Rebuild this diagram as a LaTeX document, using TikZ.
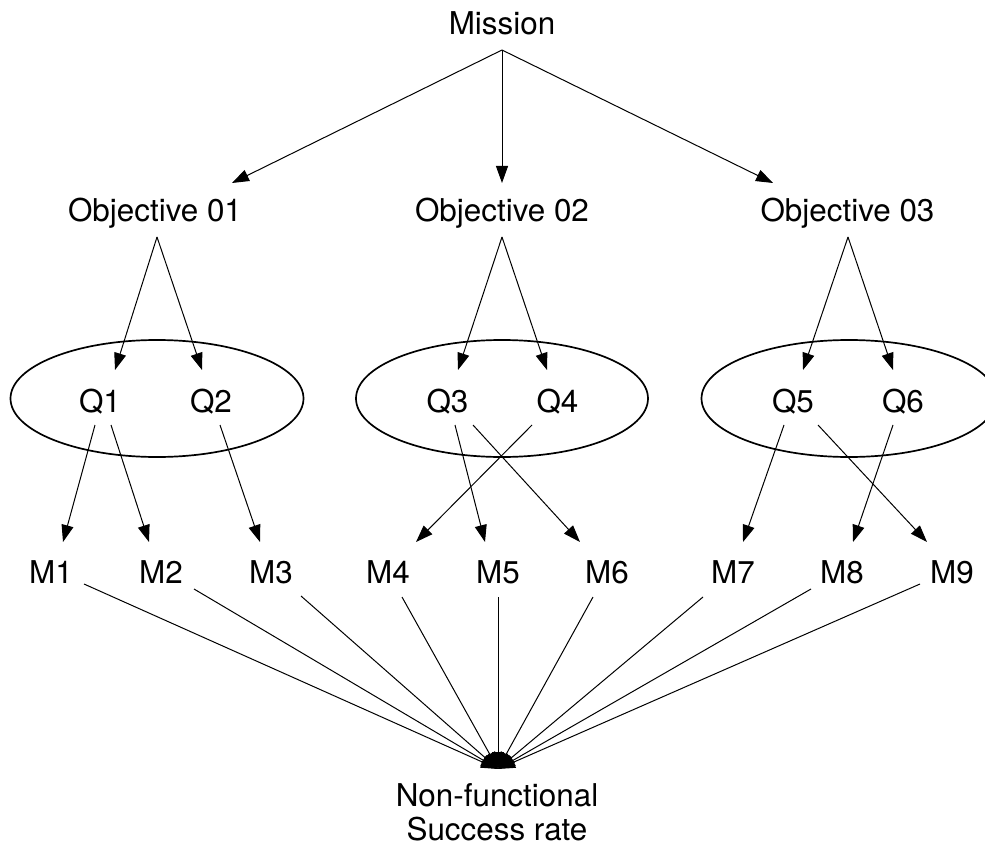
\documentclass[tikz,border=0pt]{standalone}
\usepackage{fontspec}
\setmainfont{TeX Gyre Heros}
\usetikzlibrary{arrows.meta}
\begin{document}
\begin{tikzpicture}[x=1pt,y=-1pt,
  lbl/.style={font=\fontsize{31.4}{34}\selectfont, inner sep=0pt, anchor=base},
  link/.style={line width=1pt, -{Triangle[length=17pt,width=12pt]}},
  group/.style={line width=1.7pt}]
\useasboundingbox (0,0) rectangle (985,845);

% text nodes
\node[lbl] (mission) at (502,35) {Mission};
\node[lbl] (o1) at (155,222) {Objective 01};
\node[lbl] (o2) at (502,222) {Objective 02};
\node[lbl] (o3) at (847.5,222) {Objective 03};

\node[lbl] (q1) at (100,412) {Q1};
\node[lbl] (q2) at (211,412) {Q2};
\node[lbl] (q3) at (447.5,412) {Q3};
\node[lbl] (q4) at (557.5,412) {Q4};
\node[lbl] (q5) at (793,412) {Q5};
\node[lbl] (q6) at (903,412) {Q6};

\node[lbl] (m1) at (51,583) {M1};
\node[lbl] (m2) at (161,583) {M2};
\node[lbl] (m3) at (271,583) {M3};
\node[lbl] (m4) at (388,583) {M4};
\node[lbl] (m5) at (498,583) {M5};
\node[lbl] (m6) at (607,583) {M6};
\node[lbl] (m7) at (733,583) {M7};
\node[lbl] (m8) at (842,583) {M8};
\node[lbl] (m9) at (952,583) {M9};

\node[lbl, anchor=north, align=center] (sink) at (497,783) {Non-functional\\Success rate};

% question groups
\draw[group] (157,398.5) ellipse [x radius=146.5, y radius=58.5];
\draw[group] (502,398.5) ellipse [x radius=146, y radius=58.5];
\draw[group] (849,398.5) ellipse [x radius=147.5, y radius=58.5];

% connector end points
\coordinate (missionOut) at (502,50);
\coordinate (o1In) at (232,183);
\coordinate (o2In) at (502,183);
\coordinate (o3In) at (773,183);
\coordinate (o1Out) at (157,237);
\coordinate (o2Out) at (502,237);
\coordinate (o3Out) at (848,237);

\coordinate (q1In) at (115,370);
\coordinate (q2In) at (202,370);
\coordinate (q3In) at (458,370);
\coordinate (q4In) at (547,370);
\coordinate (q5In) at (803,370);
\coordinate (q6In) at (893,370);

\coordinate (q1OutA) at (95,425);
\coordinate (q1OutB) at (111,425);
\coordinate (q2Out) at (220,425);
\coordinate (q3OutA) at (455,425);
\coordinate (q3OutB) at (473,425);
\coordinate (q4Out) at (532,425);
\coordinate (q5OutA) at (784,425);
\coordinate (q5OutB) at (818,425);
\coordinate (q6Out) at (893,425);

\coordinate (m1In) at (63,542);
\coordinate (m2In) at (149,542);
\coordinate (m3In) at (260,542);
\coordinate (m4In) at (416,542);
\coordinate (m5In) at (485,542);
\coordinate (m6In) at (580,542);
\coordinate (m7In) at (743,542);
\coordinate (m8In) at (853,542);
\coordinate (m9In) at (927,542);

\coordinate (m1Out) at (84,584);
\coordinate (m2Out) at (194,589);
\coordinate (m3Out) at (301,596);
\coordinate (m4Out) at (402,597);
\coordinate (m5Out) at (498,597);
\coordinate (m6Out) at (593,597);
\coordinate (m7Out) at (703,597);
\coordinate (m8Out) at (811,589);
\coordinate (m9Out) at (920,584);
\coordinate (sinkIn) at (498,769);

% mission to objectives
\draw[link] (missionOut) -- (o1In);
\draw[link] (missionOut) -- (o2In);
\draw[link] (missionOut) -- (o3In);

% objectives to questions
\draw[link] (o1Out) -- (q1In);
\draw[link] (o1Out) -- (q2In);
\draw[link] (o2Out) -- (q3In);
\draw[link] (o2Out) -- (q4In);
\draw[link] (o3Out) -- (q5In);
\draw[link] (o3Out) -- (q6In);

% questions to metrics
\draw[link] (q1OutA) -- (m1In);
\draw[link] (q1OutB) -- (m2In);
\draw[link] (q2Out) -- (m3In);
\draw[link] (q3OutA) -- (m5In);
\draw[link] (q3OutB) -- (m6In);
\draw[link] (q4Out) -- (m4In);
\draw[link] (q5OutA) -- (m7In);
\draw[link] (q5OutB) -- (m9In);
\draw[link] (q6Out) -- (m8In);

% metrics to the non-functional goal
\foreach \m in {m1,m2,m3,m4,m5,m6,m7,m8,m9}
  \draw[link] (\m Out) -- (sinkIn);
\end{tikzpicture}
\end{document}
